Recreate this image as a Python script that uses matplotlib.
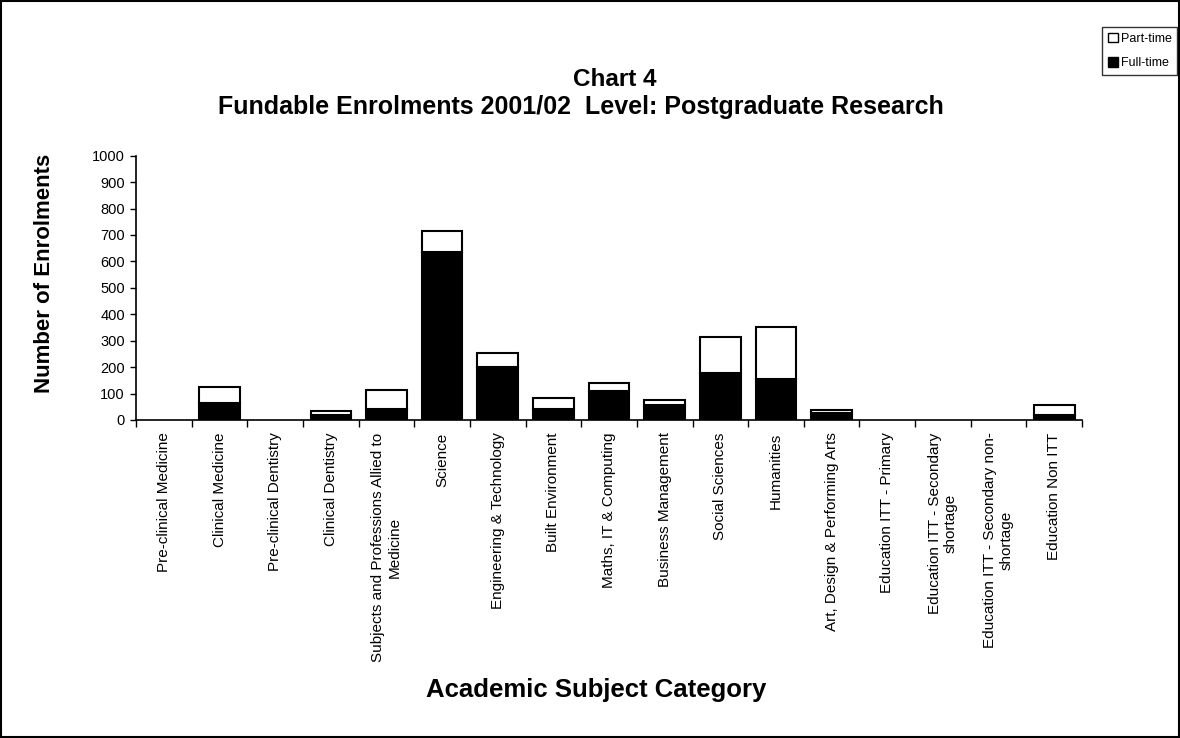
import numpy as np
import matplotlib
matplotlib.use("Agg")
import matplotlib.pyplot as plt
from matplotlib.patches import Rectangle, Patch

plt.rcParams['font.family'] = ['Liberation Sans', 'DejaVu Sans']

categories = [
    "Pre-clinical Medicine",
    "Clinical Medicine",
    "Pre-clinical Dentistry",
    "Clinical Dentistry",
    "Subjects and Professions Allied to\nMedicine",
    "Science",
    "Engineering & Technology",
    "Built Environment",
    "Maths, IT & Computing",
    "Business Management",
    "Social Sciences",
    "Humanities",
    "Art, Design & Performing Arts",
    "Education ITT - Primary",
    "Education ITT - Secondary\nshortage",
    "Education ITT - Secondary non-\nshortage",
    "Education Non ITT",
]
full_time = [0, 64, 0, 19, 41, 634, 200, 41, 110, 57, 179, 155, 25, 0, 0, 0, 18]
totals = [0, 123, 0, 32, 115, 715, 252, 84, 139, 77, 313, 351, 39, 0, 0, 0, 55]
part_time = [t - f for t, f in zip(totals, full_time)]
y_ticks = list(range(0, 1001, 100))

fig = plt.figure(figsize=(11.8, 7.38), dpi=100)
ax = fig.add_axes([0.1153, 0.431, 0.8017, 0.358])

x = np.arange(len(categories))
w = 0.73
# no outline for empty categories
lw_full = [1.5 if v > 0 else 0 for v in full_time]
lw_part = [1.5 if v > 0 else 0 for v in part_time]
ax.bar(x, full_time, w, color='black', edgecolor='black', linewidth=lw_full)
ax.bar(x, part_time, w, bottom=full_time, color='white', edgecolor='black', linewidth=lw_part)

ax.set_xlim(-0.5, len(categories) - 0.5)
ax.set_ylim(0, 1000)
ax.set_yticks(y_ticks)
ax.tick_params(axis='y', labelsize=10.5, length=4, width=1, direction='out', pad=4)
ax.set_xticks(x)
ax.set_xticklabels(categories, rotation=90, fontsize=11, ha='center', va='top',
                   multialignment='center')
ax.tick_params(axis='x', which='major', length=0, pad=9)
ax.set_xticks(np.arange(-0.5, len(categories)), minor=True)
ax.tick_params(axis='x', which='minor', length=5, width=1, direction='out')
for s in ['top', 'right']:
    ax.spines[s].set_visible(False)
for s in ['left', 'bottom']:
    ax.spines[s].set_linewidth(1.2)

fig.text(45 / 1180, 1 - 273 / 738, "Number of Enrolments", fontsize=16, fontweight='bold',
         rotation=90, ha='center', va='center')
fig.text(0.505, 1 - 690 / 738, "Academic Subject Category", fontsize=18.5, fontweight='bold',
         ha='center', va='center')
fig.text(0.521, 1 - 80 / 738, "Chart 4", fontsize=17.5, fontweight='bold',
         ha='center', va='center')
fig.text(0.492, 1 - 107 / 738, "Fundable Enrolments 2001/02  Level: Postgraduate Research",
         fontsize=18, fontweight='bold', ha='center', va='center')

handles = [Patch(facecolor='white', edgecolor='black', linewidth=1, label='Part-time'),
           Patch(facecolor='black', edgecolor='black', linewidth=1, label='Full-time')]
leg = fig.legend(handles=handles, loc='upper right',
                 bbox_to_anchor=(1177 / 1180, 1 - 27 / 738), fontsize=9, frameon=True,
                 fancybox=False, edgecolor='black', handlelength=0.8,
                 handleheight=0.8, handletextpad=0.2, borderpad=0.45,
                 labelspacing=1.0, borderaxespad=0)
leg.get_frame().set_linewidth(1)

fig.patches.append(Rectangle((0.001, 0.001), 0.998, 0.998, transform=fig.transFigure,
                             fill=False, edgecolor='black', linewidth=1.5))

fig.savefig("out.png", dpi=100)
